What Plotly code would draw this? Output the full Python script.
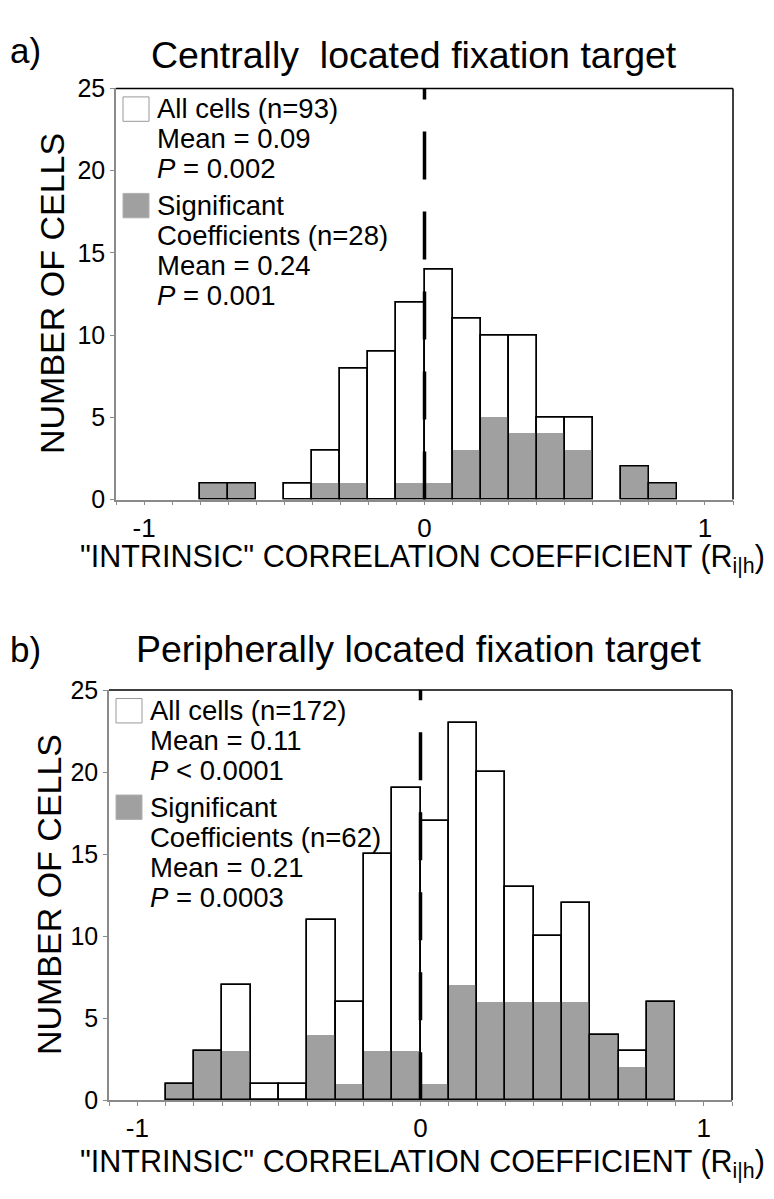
import plotly.graph_objects as go

W, H = 774, 1199
FONT = "Liberation Sans, Arial, Helvetica, sans-serif"

# ---------------- data ----------------
BIN_WIDTH = 0.1
REF_X = 0
Y_MAX = 25

a_bin_left = [-0.8, -0.7, -0.6, -0.5, -0.4, -0.3, -0.2, -0.1, 0.0, 0.1, 0.2, 0.3, 0.4, 0.5, 0.6, 0.7, 0.8]
a_all = [1, 1, 0, 1, 3, 8, 9, 12, 14, 11, 10, 10, 5, 5, 0, 2, 1]
a_sig = [1, 1, 0, 0, 1, 1, 0, 1, 1, 3, 5, 4, 4, 3, 0, 2, 1]

b_bin_left = [-0.9, -0.8, -0.7, -0.6, -0.5, -0.4, -0.3, -0.2, -0.1, 0.0, 0.1, 0.2, 0.3, 0.4, 0.5, 0.6, 0.7, 0.8]
b_all = [1, 3, 7, 1, 1, 11, 6, 15, 19, 17, 23, 20, 13, 10, 12, 4, 3, 6]
b_sig = [1, 3, 3, 0, 0, 4, 1, 3, 3, 1, 7, 6, 6, 6, 6, 4, 2, 6]

x_tickvals = [-1, 0, 1]
x_ticktext = ["-1", "0", "1"]

a_title = "Centrally\u00a0 located fixation target"
b_title = "Peripherally located fixation target"
a_label = "a)"
b_label = "b)"
x_title = "\"INTRINSIC\" CORRELATION COEFFICIENT (R<sub>i|h</sub>)"
y_title = "NUMBER OF CELLS"

a_legend_all = ["All cells (n=93)", "Mean = 0.09", "<i>P</i> = 0.002"]
a_legend_sig = ["Significant", "Coefficients (n=28)", "Mean = 0.24", "<i>P</i> = 0.001"]
b_legend_all = ["All cells (n=172)", "Mean = 0.11", "<i>P</i> < 0.0001"]
b_legend_sig = ["Significant", "Coefficients (n=62)", "Mean = 0.21", "<i>P</i> = 0.0003"]

# ---------------- layout geometry (pixels) ----------------
GRAY_FILL = "#a0a0a0"
AXIS_GRAY = "#8a8a8a"

panels = [
    dict(left=108, right=725, top=68, bottom=489, xa="x", ya="y",
         bins=a_bin_left, all=a_all, sig=a_sig, title=a_title, label=a_label,
         title_cx=406, title_cy=34, label_cy=29, xt_cy=549, yt_cx=44,
         leg_all=a_legend_all, leg_sig=a_legend_sig),
    dict(left=101, right=724, top=684, bottom=1104, xa="x2", ya="y2",
         bins=b_bin_left, all=b_all, sig=b_sig, title=b_title, label=b_label,
         title_cx=410, title_cy=642, label_cy=643, xt_cy=1169, yt_cx=41,
         leg_all=b_legend_all, leg_sig=b_legend_sig),
]


def px(x):
    return x / W


def py(y):
    return 1 - y / H


def nz(vals):
    return [v if v else None for v in vals]


fig = go.Figure()
annotations = []
shapes = []

for i, p in enumerate(panels):
    # total bars (white)
    fig.add_trace(go.Bar(x=p["bins"], y=nz(p["all"]), width=BIN_WIDTH, offset=0,
                         marker=dict(color="white", line=dict(color="black", width=1.5)),
                         xaxis=p["xa"], yaxis=p["ya"], showlegend=False, hoverinfo="skip"))
    # significant bars (gray fill)
    fig.add_trace(go.Bar(x=p["bins"], y=nz(p["sig"]), width=BIN_WIDTH, offset=0,
                         marker=dict(color=GRAY_FILL, line=dict(width=0)),
                         xaxis=p["xa"], yaxis=p["ya"], showlegend=False, hoverinfo="skip"))
    # outlines on top
    fig.add_trace(go.Bar(x=p["bins"], y=nz(p["all"]), width=BIN_WIDTH, offset=0,
                         marker=dict(color="rgba(0,0,0,0)", line=dict(color="black", width=1.5)),
                         xaxis=p["xa"], yaxis=p["ya"], showlegend=False, hoverinfo="skip"))
    # dashed reference line at zero
    fig.add_trace(go.Scatter(x=[REF_X, REF_X], y=[0, Y_MAX], mode="lines",
                             line=dict(color="black", width=3.5, dash="48px,32px"),
                             xaxis=p["xa"], yaxis=p["ya"], showlegend=False, hoverinfo="skip"))

    # top/right frame in black
    xd = p["xa"] + " domain"
    yd = p["ya"] + " domain"
    shapes.append(dict(type="line", xref=xd, yref=yd, x0=0, x1=1, y0=1, y1=1,
                       line=dict(color="black", width=1.5)))
    shapes.append(dict(type="line", xref=xd, yref=yd, x0=1, x1=1, y0=0, y1=1,
                       line=dict(color="black", width=1.5)))

    # titles
    annotations.append(dict(text=p["title"], x=px(p["title_cx"]), y=py(p["title_cy"]),
                            xref="paper", yref="paper", xanchor="center", yanchor="middle",
                            showarrow=False, font=dict(size=37.5, color="black", family=FONT)))
    annotations.append(dict(text=p["label"], x=px(0), y=py(p["label_cy"]),
                            xref="paper", yref="paper", xanchor="left", yanchor="middle",
                            showarrow=False, font=dict(size=35, color="black", family=FONT)))
    annotations.append(dict(text=x_title, x=px(70), y=py(p["xt_cy"]),
                            xref="paper", yref="paper", xanchor="left", yanchor="middle",
                            showarrow=False, font=dict(size=30.5, color="black", family=FONT)))
    annotations.append(dict(text=y_title, x=px(p["yt_cx"]), y=py((p["top"] + p["bottom"]) / 2),
                            xref="paper", yref="paper", xanchor="center", yanchor="middle",
                            textangle=-90, showarrow=False,
                            font=dict(size=34, color="black", family=FONT)))

    # legend
    box_x0 = p["left"] + 7
    box_x1 = p["left"] + 33
    text_x = p["left"] + 39
    step = 30.7
    shapes.append(dict(type="rect", xref="paper", yref="paper",
                       x0=px(box_x0), x1=px(box_x1), y0=py(p["top"] + 8.7), y1=py(p["top"] + 33.7),
                       fillcolor="white", line=dict(color="#999999", width=1)))
    shapes.append(dict(type="rect", xref="paper", yref="paper",
                       x0=px(box_x0), x1=px(box_x1), y0=py(p["top"] + 107.5), y1=py(p["top"] + 132.5),
                       fillcolor=GRAY_FILL, line=dict(color="#b0b0b0", width=1)))
    for k, line in enumerate(p["leg_all"]):
        annotations.append(dict(text=line, x=px(text_x), y=py(p["top"] + 21 + k * step),
                                xref="paper", yref="paper", xanchor="left", yanchor="middle",
                                showarrow=False, font=dict(size=27.5, color="black", family=FONT)))
    for k, line in enumerate(p["leg_sig"]):
        annotations.append(dict(text=line, x=px(text_x), y=py(p["top"] + 120 + k * step),
                                xref="paper", yref="paper", xanchor="left", yanchor="middle",
                                showarrow=False, font=dict(size=27.5, color="black", family=FONT)))

axis_common_x = dict(range=[-1.1, 1.1], tickmode="array", tickvals=x_tickvals, ticktext=x_ticktext,
                     ticks="outside", ticklen=4, tickwidth=1.2, tickcolor=AXIS_GRAY,
                     showline=True, linecolor=AXIS_GRAY, linewidth=1.5,
                     showgrid=False, zeroline=False,
                     tickfont=dict(size=26, color="black", family=FONT),
                     minor=dict(tickmode="linear", tick0=0, dtick=0.1, ticks="outside",
                                ticklen=4, tickwidth=1.2, tickcolor=AXIS_GRAY, showgrid=False))
axis_common_y = dict(range=[0, Y_MAX], dtick=5, tick0=0,
                     ticks="outside", ticklen=4, tickwidth=1.2, tickcolor=AXIS_GRAY,
                     showline=True, linecolor=AXIS_GRAY, linewidth=1.5,
                     showgrid=False, zeroline=False,
                     tickfont=dict(size=25, color="black", family=FONT))

p0, p1 = panels
fig.update_layout(
    width=W, height=H, autosize=False,
    margin=dict(l=0, r=0, t=0, b=0),
    paper_bgcolor="white", plot_bgcolor="white",
    barmode="overlay", bargap=0,
    xaxis=dict(domain=[px(p0["left"]), px(p0["right"])], anchor="y", **axis_common_x),
    yaxis=dict(domain=[py(p0["bottom"]), py(p0["top"])], anchor="x", **axis_common_y),
    xaxis2=dict(domain=[px(p1["left"]), px(p1["right"])], anchor="y2", **axis_common_x),
    yaxis2=dict(domain=[py(p1["bottom"]), py(p1["top"])], anchor="x2", **axis_common_y),
    annotations=annotations,
    shapes=shapes,
    font=dict(family=FONT, color="black"),
)

fig.write_html("out.html")
